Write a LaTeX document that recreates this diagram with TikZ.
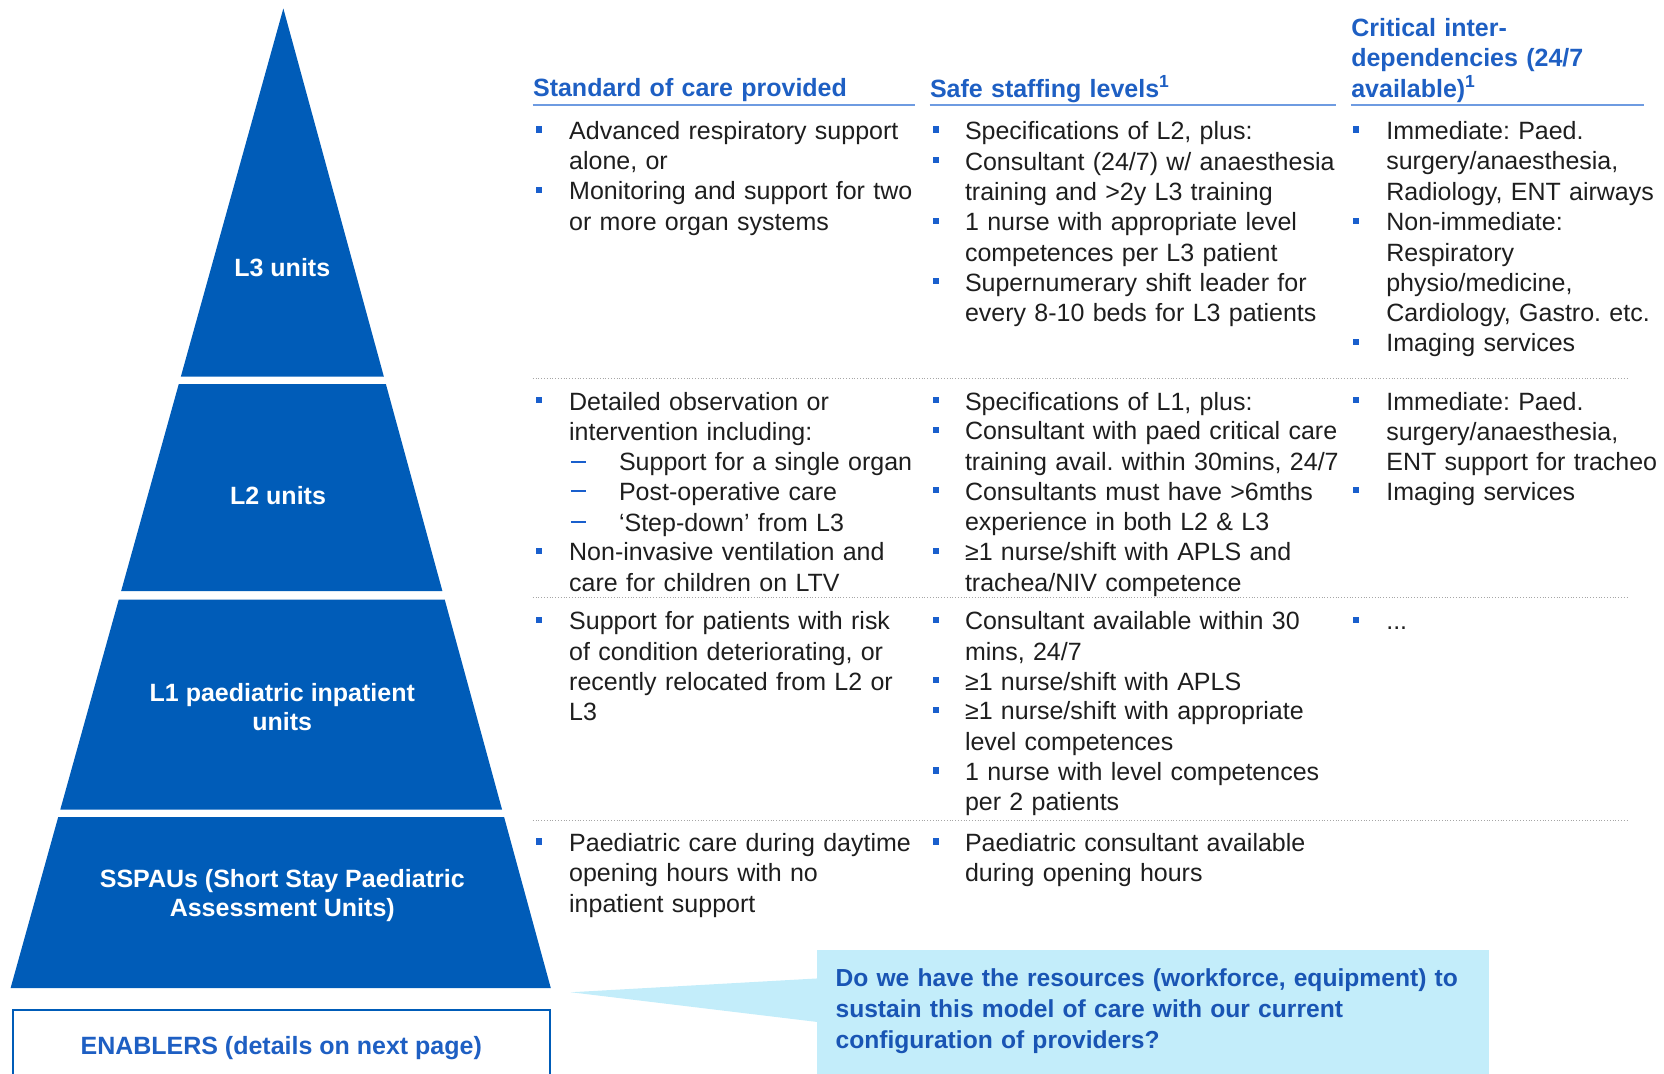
\documentclass[tikz,border=0pt]{standalone}
\usepackage{fontspec}
\setmainfont{Liberation Sans}
\usetikzlibrary{calc,positioning}
\definecolor{pyrblue}{RGB}{0,92,184}
\definecolor{hdrblue}{RGB}{30,95,195}
\definecolor{ulblue}{RGB}{110,155,225}
\definecolor{bulblue}{RGB}{25,95,205}
\definecolor{callfill}{RGB}{195,237,250}
\definecolor{calltxt}{RGB}{25,85,180}
\definecolor{txtgray}{RGB}{30,30,30}
\newcommand{\bodyfont}{\fontsize{13.4}{16.3}\selectfont}
\newcommand{\lvlfont}{\fontsize{13.4}{15.5}\selectfont\bfseries}
\frenchspacing

\begin{document}
\begin{tikzpicture}[
    x=.2mm,y=-.2mm,
    lvl/.style={text=white,font=\lvlfont,align=center,inner sep=0pt},
    hdr/.style={anchor=north west,inner sep=0pt,text width=7.5cm,align=left,text=hdrblue,font=\bodyfont\bfseries,execute at begin node=\strut},
    txt/.style={anchor=north west,inner sep=0pt,text width=7.5cm,align=left,text=txtgray,font=\bodyfont,execute at begin node=\strut},
    bul/.style={fill=bulblue,minimum size=1.2mm,inner sep=0pt},
    ul/.style={ulblue,line width=1.1pt},
    sep/.style={black!35,densely dotted,line width=.5pt},
    dsh/.style={bulblue,line width=1pt}
  ]
    \useasboundingbox (0,0) rectangle (1568,1012);
    % pyramid
    \coordinate (apex) at (267,8); \coordinate (bl) at (10,931); \coordinate (br) at (519,931);
    \foreach \yt/\yb in {8/355,362/557,565/763,770/931}
      \fill[pyrblue] ($(apex)!{(\yt-8)/923}!(bl)$) -- ($(apex)!{(\yb-8)/923}!(bl)$)
        -- ($(apex)!{(\yb-8)/923}!(br)$) -- ($(apex)!{(\yt-8)/923}!(br)$) -- cycle;
    \node[lvl] (lvl3) at (266,252) {L3 units};
    \node[lvl] (lvl2) at (262,467) {L2 units};
    \node[lvl] (lvl1) at (266,666) {L1 paediatric inpatient\\units};
    \node[lvl] (ssp) at (266,844) {SSPAUs (Short Stay Paediatric\\Assessment Units)};
    \draw[pyrblue,line width=1.2pt] (12,952) rectangle (518,1040);
    \node[font=\bodyfont\bfseries,text=hdrblue] (enab) at (265,988) {ENABLERS (details on next page)};

    % headers
    \node[hdr] (h1) at (502,71) {Standard of care provided};
    \node[hdr] (h2) at (876,71) {Safe staffing levels\textsuperscript{1}};
    \node[hdr] (h3) at (1273,14) {Critical inter-\\dependencies (24/7\\available)\textsuperscript{1}};
    \draw[ul] (502,99) -- (862,99); \draw[ul] (876,99) -- (1259,99); \draw[ul] (1273,99) -- (1549,99);
    \foreach \y in {357,563,773} \draw[sep] (502,\y) -- (1535,\y);

    % standard of care
    \foreach \y/\t [count=\i] in {123/{Advanced respiratory support\\alone, or},180/{Monitoring and support for two\\or more organ systems},
      378/{Detailed observation or\\intervention including:},520/{Non-invasive ventilation and\\care for children on LTV},
      585/{Support for patients with risk\\of condition deteriorating, or\\recently relocated from L2 or\\L3},
      794/{Paediatric care during daytime\\opening hours with no\\inpatient support}}
      {\node[bul] (sb\i) at (508,\y-1) {}; \node[txt] (st\i) at (536,\y-12) {\t};}
    \foreach \y/\t [count=\i] in {435/{Support for a single organ},463/{Post-operative care},492/{`Step-down' from L3}}
      {\draw[dsh] (538,\y) -- (552,\y); \node[txt] (sd\i) at (583,\y-12) {\t};}
    % safe staffing
    \foreach \y/\t [count=\i] in {123/{Specifications of L2, plus:},152/{Consultant (24/7) w/ anaesthesia\\training and >2y L3 training},
      209/{1 nurse with appropriate level\\competences per L3 patient},266/{Supernumerary shift leader for\\every 8-10 beds for L3 patients},
      378/{Specifications of L1, plus:},406/{Consultant with paed critical care\\training avail. within 30mins, 24/7},
      463/{Consultants must have >6mths\\experience in both L2 \& L3},520/{≥1 nurse/shift with APLS and\\trachea/NIV competence},
      585/{Consultant available within 30\\mins, 24/7},642/{≥1 nurse/shift with APLS},
      670/{≥1 nurse/shift with appropriate\\level competences},727/{1 nurse with level competences\\per 2 patients},
      794/{Paediatric consultant available\\during opening hours}}
      {\node[bul] (fb\i) at (882,\y-1) {}; \node[txt] (ft\i) at (909,\y-12) {\t};}
    % inter-dependencies
    \foreach \y/\t [count=\i] in {123/{Immediate: Paed.\\surgery/anaesthesia,\\Radiology, ENT airways},
      209/{Non-immediate:\\Respiratory\\physio/medicine,\\Cardiology, Gastro. etc.},323/{Imaging services},
      378/{Immediate: Paed.\\surgery/anaesthesia,\\ENT support for tracheo},463/{Imaging services},585/{...}}
      {\node[bul] (cb\i) at (1278,\y-1) {}; \node[txt] (ct\i) at (1306,\y-12) {\t};}

    % question
    \fill[callfill] (770,895) rectangle (1403,1040);
    \fill[callfill] (770,922) -- (538,935) -- (770,963) -- cycle;
    \node[txt,text width=12.5cm,text=calltxt,font=\fontsize{13.2}{16.5}\selectfont\bfseries] (ask) at (787,909) {Do we have the resources (workforce, equipment) to\\sustain this model of care with our current\\configuration of providers?};
  \end{tikzpicture}
\end{document}
